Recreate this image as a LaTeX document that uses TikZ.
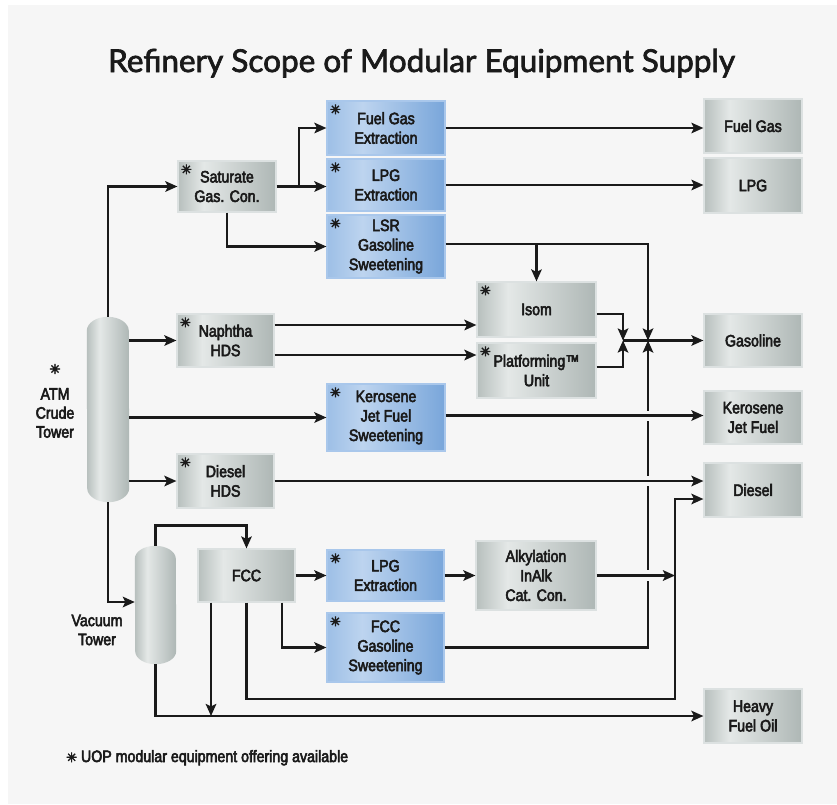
\documentclass[tikz,border=0pt]{standalone}
\usepackage{fontspec}
\setmainfont{Liberation Sans}[FakeStretch=0.86]
\newfontfamily\titlefont{Lato}
\newfontfamily\symfont{DejaVu Sans}
\usetikzlibrary{arrows.meta,calc}
\newcommand\embon{\special{pdf:literal direct 2 Tr 0.55 w}}
\newcommand\emboff{\special{pdf:literal direct 0 Tr}}
\definecolor{bg}{HTML}{F6F6F6}
\definecolor{mA}{HTML}{B7BFBD}
\definecolor{mB}{HTML}{E4E8E7}
\definecolor{mC}{HTML}{AEB7B5}
\definecolor{bA}{HTML}{9DBFE6}
\definecolor{bB}{HTML}{BDD4EF}
\definecolor{bC}{HTML}{79A6DA}
\definecolor{gedge}{HTML}{DCE1E1}
\definecolor{bedge}{HTML}{A9C7EB}
\definecolor{ink}{HTML}{1A1A1A}
\pgfdeclarehorizontalshading{metal}{100bp}{color(0bp)=(mA); color(25bp)=(mA); color(38bp)=(mB); color(75bp)=(mC); color(100bp)=(mC)}
\pgfdeclarehorizontalshading{bluesh}{100bp}{color(0bp)=(bA); color(25bp)=(bA); color(40bp)=(bB); color(75bp)=(bC); color(100bp)=(bC)}
\pgfdeclarehorizontalshading{towersh}{100bp}{color(0bp)=(mA); color(25bp)=(mA); color(40bp)=(mB); color(75bp)=(mC); color(100bp)=(mC)}
\begin{document}
\begin{tikzpicture}[x=1pt,y=-1pt,
  heavytext/.style={execute at begin node=\embon, execute at end node=\emboff},
  box/.style={rectangle, inner sep=0pt, align=center, text=ink, font=\fontsize{16.5}{19.5}\selectfont, line width=1.2pt, heavytext},
  gbox/.style={box, draw=gedge, shading=metal},
  bbox/.style={box, draw=bedge, shading=bluesh},
  flow/.style={line width=2.7pt, draw=ink, -{Stealth[length=12pt,width=10.5pt,inset=2.5pt]}},
  ast/.style={font=\symfont\fontsize{13}{13}\selectfont, inner sep=0pt, text=ink, heavytext},
  lbl/.style={align=center, inner sep=0pt, text=ink, font=\fontsize{16.5}{19}\selectfont, heavytext},
  hop/.style={line width=5pt, draw=bg},
  tower/.style={rectangle, inner sep=0pt}
]
\useasboundingbox (0,0) rectangle (837,804);
\fill[white] (0,0) rectangle (837,804);
\fill[bg] (8,5) rectangle (837,804);

% title
\node[anchor=base, text=ink, font=\titlefont\fontsize{31.5}{33}\selectfont, execute at begin node={\special{pdf:literal direct 2 Tr 0.7 w}}, execute at end node=\emboff] (title) at (421.5,72) {Refinery Scope of Modular Equipment Supply};

% towers
\node[tower, minimum width=42, minimum height=185] (atm) at (108,409.5) {};
\shade[shading=towersh] ([yshift=-14pt]atm.north west) arc[start angle=180, end angle=0, x radius=21pt, y radius=14pt] -- ([yshift=14pt]atm.south east) arc[start angle=0, end angle=-180, x radius=21pt, y radius=14pt] -- cycle;
\node[tower, minimum width=41, minimum height=118] (vac) at (155.5,605) {};
\shade[shading=towersh] ([yshift=-13pt]vac.north west) arc[start angle=180, end angle=0, x radius=20.5pt, y radius=13pt] -- ([yshift=13pt]vac.south east) arc[start angle=0, end angle=-180, x radius=20.5pt, y radius=13pt] -- cycle;

\node[ast] (atmast) at (55,369) {✳};
\node[lbl] (atml) at (55,413) {ATM\\Crude\\Tower};
\node[lbl] (vacl) at (97,630) {Vacuum\\Tower};

% process boxes
\node[gbox, minimum width=98, minimum height=51] (sat) at (227,186.5) {Saturate\\Gas. Con.};
\node[bbox, minimum width=118, minimum height=54] (fgx) at (386,128) {Fuel Gas\\Extraction};
\node[bbox, minimum width=118, minimum height=52] (lpgx) at (386,185) {LPG\\Extraction};
\node[bbox, minimum width=118, minimum height=63] (lsr) at (386,246.5) {LSR\\Gasoline\\Sweetening};
\node[gbox, minimum width=119, minimum height=55] (isom) at (536.5,309.5) {Isom};
\node[gbox, minimum width=119, minimum height=55] (plat) at (536.5,370.5) {Platforming™\\Unit};
\node[gbox, minimum width=97, minimum height=53] (naph) at (225.5,340.5) {Naphtha\\HDS};
\node[bbox, minimum width=118, minimum height=67] (kero) at (386,417.5) {Kerosene\\Jet Fuel\\Sweetening};
\node[gbox, minimum width=97, minimum height=54] (dhds) at (225.5,481) {Diesel\\HDS};
\node[gbox, minimum width=97, minimum height=53] (fcc) at (246.5,575.5) {FCC};
\node[bbox, minimum width=117, minimum height=51] (lpg2) at (385.5,575.5) {LPG\\Extraction};
\node[bbox, minimum width=117, minimum height=69] (fccg) at (385.5,647.5) {FCC\\Gasoline\\Sweetening};
\node[gbox, minimum width=120, minimum height=69] (alky) at (536,575.5) {Alkylation\\InAlk\\Cat. Con.};

% product boxes
\node[gbox, minimum width=98, minimum height=54] (fuelgas) at (753,126) {Fuel Gas};
\node[gbox, minimum width=98, minimum height=55] (lpg) at (753,185.5) {LPG};
\node[gbox, minimum width=98, minimum height=53] (gasoline) at (753,340.5) {Gasoline};
\node[gbox, minimum width=98, minimum height=53] (kerojf) at (753,417.5) {Kerosene\\Jet Fuel};
\node[gbox, minimum width=98, minimum height=54] (diesel) at (753,490) {Diesel};
\node[gbox, minimum width=98, minimum height=54] (hfo) at (753,716) {Heavy\\Fuel Oil};

% asterisks
\foreach \b in {sat,fgx,lpgx,lsr,isom,plat,naph,kero,dhds,lpg2,fccg}
  \node[ast] at ([shift={(9pt,-9pt)}]\b.north west) {✳};

% junction coordinates
\coordinate (jx) at (648,340.5);
\coordinate (j2) at (623,340.5);
\coordinate (dcol) at (675,699);
\coordinate (b1) at (299,186.5);

% long vertical riser first, then hops
\draw[flow] (fccg.east) -| (jx);
\draw[hop] (648,570) -- (648,581);
\draw[hop] (648,476) -- (648,486);
\draw[hop] (648,410.5) -- (648,420.5);

% connectors
\draw[flow] (atm.north) |- (sat.west);
\draw[flow] (sat.east) -- (sat.east -| lpgx.west);
\draw[flow] (b1) |- (fgx.west);
\draw[flow] (sat.south) |- (lsr.west);
\draw[flow] (fgx.east) -- (fgx.east -| fuelgas.west);
\draw[flow] (lpgx.east) -- (lpgx.east -| lpg.west);
\coordinate (lsrout) at ([yshift=2.5pt]lsr.east);
\draw[flow] (lsrout) -| (jx);
\draw[flow] (isom.north |- lsrout) -- (isom.north);
\draw[flow] ([yshift=-4.5pt]isom.east) -| (j2);
\draw[flow] ([yshift=3.5pt]plat.east) -| (j2);
\draw[flow] (j2) -- (j2 -| gasoline.west);
\draw[flow] (atm.east |- naph.west) -- (naph.west);
\draw[flow] ([yshift=15.5pt]naph.east) -- ([yshift=15.5pt]naph.east -| isom.west);
\draw[flow] ([yshift=-14.5pt]naph.east) -- ([yshift=-14.5pt]naph.east -| plat.west);
\draw[flow] (atm.east |- kero.west) -- (kero.west);
\draw[flow] ([yshift=2pt]kero.east) -- ([yshift=2pt]kero.east -| kerojf.west);
\draw[flow] (atm.east |- dhds.west) -- (dhds.west);
\draw[flow] (dhds.east) -- (dhds.east -| diesel.west);
\draw[flow] (atm.south) |- ([yshift=3pt]vac.west);
\draw[flow] (vac.north) |- ([yshift=23pt]fcc.north) -- (fcc.north);
\draw[flow] (fcc.east) -- (lpg2.west);
\draw[flow] (lpg2.east) -- (alky.west);
\draw[flow] (alky.east) -- (alky.east -| dcol);
\draw[flow] ([xshift=35.5pt]fcc.south) |- (fccg.west);
\draw[flow] (fcc.south) |- (dcol) |- ([yshift=-9pt]diesel.west);
\draw[flow] ([xshift=-35.5pt]fcc.south) -- ([xshift=-35.5pt]fcc.south |- hfo.west);
\draw[flow] (vac.south) |- (hfo.west);

% footnote
\node[anchor=base west, inner sep=0pt, text=ink, font=\fontsize{16.5}{18}\selectfont, heavytext] (note) at (66,762) {{\symfont\fontsize{13}{13}\selectfont ✳} UOP modular equipment offering available};
\end{tikzpicture}
\end{document}
